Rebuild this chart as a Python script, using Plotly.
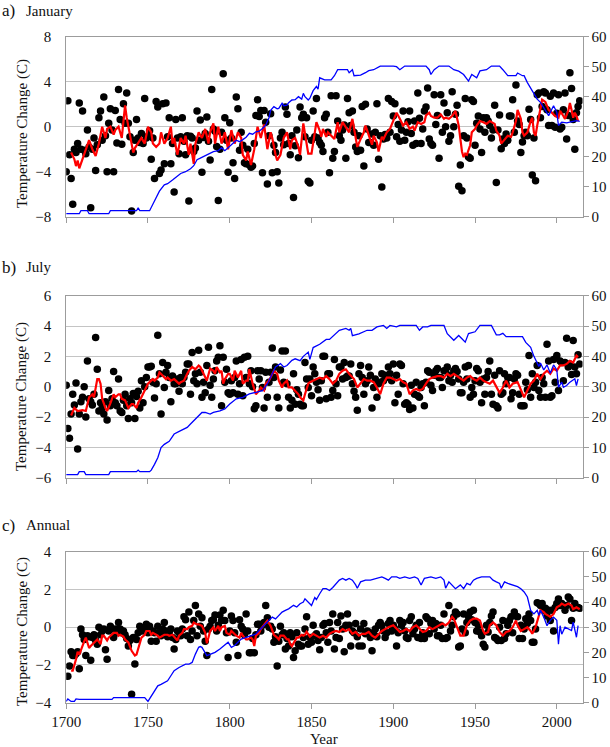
import plotly.graph_objects as go

# ---------------- data ----------------
START_YEAR = 1700

# Annual dots (one per year from 1700), by decade
jan_dots = [
    -4.0, 2.3, -2.5, -4.6, -6.9, -2.0, -2.3, -1.5, 2.1, -2.0,
    1.4, -2.1, -2.4, -0.3, -1.8, -7.2, -2.0, -1.0, -3.9, -1.6,
    0.8, 1.4, -1.2, 2.65, -0.8, -4.0, 0.3, 1.6, -0.3, -4.0,
    1.45, -1.45, 3.3, 0.65, -1.55, 2.05, 0.3, 3.0, 0.3, -0.9,
    -7.5, -2.3, -1.2, 0.65, -1.0, -1.4, -0.6, -1.5, 2.5, -1.0,
    -0.85, -0.35, -2.9, -1.0, -4.6, 2.25, 1.75, -4.15, -3.85, 2.05,
    -3.3, 2.1, -0.9, 0.8, -3.3, -1.5, -5.8, 0.65, -1.0, -2.4,
    -0.9, 0.8, -1.3, -2.5, -0.8, -6.6, -0.85, -1.0, -2.2, -1.9,
    1.4, -1.2, 0.6, -4.05, -0.95, -0.6, 0.87, -1.3, -2.95, 3.3,
    -0.2, -0.4, -1.75, -6.55, -2.0, -0.5, 4.7, 0.8, -1.2, -4.05,
    0.35, -1.0, -3.2, -4.6, 2.65, 1.6, -2.1, -0.5, -1.65, -3.2,
    -3.3, -2.0, -3.4, -3.6, -3.5, -1.5, 1.0, 2.4, 0.9, 1.45,
    -4.1, 1.45, 0.4, -5.1, -0.8, 1.15, -4.1, -1.65, -2.3, -4.0,
    -5.0, -1.0, -0.5, -1.6, 1.75, 1.1, -1.5, -2.5, -0.8, -6.3,
    -1.7, -0.3, -2.75, 1.75, 0.8, 1.1, -0.9, 0.8, -4.85, -5.0,
    -1.2, 1.4, -0.9, 2.5, -1.0, -1.4, -1.65, -2.2, 0.8, 1.1,
    -0.5, -4.1, 2.75, -2.8, -2.2, 2.75, 0.5, -0.8, -1.2, -0.3,
    0.15, -2.8, 2.5, 1.25, 0.1, 1.4, -0.5, -1.8, -2.2, -0.8,
    -2.1, 1.8, -3.5, 2.0, -0.2, -1.4, -1.4, -0.65, -1.65, -0.5,
    2.05, -2.9, -0.8, -5.35, -1.1, -0.7, -1.0, 2.5, -0.5, 2.25,
    0.95, 2.05, -0.9, 0.2, -1.3, -0.3, 1.4, -1.2, -0.5, 0.45,
    1.4, -0.6, -1.65, 0.5, -1.5, 3.0, 0.75, -1.5, -0.2, 1.4,
    1.75, 3.45, -1.1, -1.5, -1.65, 2.85, 0.2, 1.0, -2.8, 2.85,
    -0.5, 2.1, 0.0, 1.25, -1.3, -0.8, 3.1, 0.0, 1.1, 1.9,
    -5.3, -3.4, -5.7, -0.8, 2.5, -1.0, -2.7, -2.8, 2.4, 2.25,
    -1.65, 0.3, 0.95, -0.2, -2.3, 0.8, -0.5, 0.8, 0.5, 0.1,
    -1.0, -0.3, 1.9, -4.95, -0.3, 1.05, -1.95, -1.1, -1.5, -0.65,
    -1.2, 0.95, 0.95, 2.4, -0.5, 3.7, 0.5, 0.2, -2.3, -1.35,
    -0.8, -0.5, -0.8, 1.55, 0.65, -4.3, -1.0, -4.8, 2.85, 3.0,
    0.8, 1.8, 3.1, 3.0, 1.5, 0.1, 2.7, 0.1, 3.0, -0.05,
    1.2, 2.85, -0.2, -0.05, 1.5, 3.0, -1.1, 1.0, 4.8, 3.4,
    0.65, -2.0, 1.25, 1.8, 2.3,
]

jul_dots = [
    0.1, -2.75, -3.4, -1.8, -0.5, -1.2, 0.25, -4.1, -1.8, -1.0,
    -0.7, 0.0, -2.0, 1.7, -0.8, -1.0, -1.2, -0.5, 3.25, 1.15,
    -1.6, -1.05, -1.4, -1.8, -1.0, -2.2, -0.25, -1.25, -0.8, 1.0,
    -1.05, -1.25, 0.5, -1.6, -1.7, -0.9, -0.5, -1.25, -2.1, -0.8,
    -1.05, -0.45, -2.1, -0.65, -0.3, -1.4, 0.4, -1.05, 0.0, 0.6,
    1.3, 1.3, 1.35, 0.3, -0.75, 0.2, 3.4, 0.85, -1.8, 1.6,
    -0.05, 0.95, 1.4, 0.6, -1.0, 0.7, 0.2, 0.2, 0.5, -0.3,
    0.6, 0.2, 0.6, 0.95, 1.5, 1.5, -0.5, 2.25, 0.4, 0.85,
    0.2, 2.4, 0.95, -0.7, 0.3, -0.4, 1.4, 2.6, 0.1, -0.7,
    0.5, 1.05, 1.7, 1.95, 2.7, -1.25, 1.95, 0.3, 1.15, -0.4,
    -0.5, 0.4, -0.4, 0.6, 1.7, -0.5, 0.2, 1.8, -0.6, 1.95,
    0.6, 2.0, 0.2, 1.05, 0.0, -1.45, -1.25, 1.05, 0.5, 1.05,
    -0.05, -1.4, 0.95, -0.7, 0.3, 0.95, 2.55, 0.6, 1.3, -0.7,
    -1.4, 1.1, 2.35, 0.3, 2.35, 0.2, -0.7, -1.4, -0.9, 0.85,
    -1.15, -0.2, -0.5, -1.15, -1.25, -1.25, 1.6, 0.5, -0.05, 0.5,
    -0.6, 1.3, 0.85, 0.3, -0.2, -0.9, 0.4, 2.0, 2.0, -0.8,
    0.85, 0.85, -0.7, -0.25, 1.8, 0.2, -0.6, 1.3, 1.3, 0.5,
    1.6, 0.6, 0.7, 0.7, 1.5, 0.2, -0.3, -0.7, -1.55, 0.85,
    1.4, 0.6, -0.5, 0.2, 0.4, 1.3, 0.75, -1.4, -0.05, 0.5,
    -0.7, 0.2, 0.3, 0.85, 0.4, 0.75, 0.6, 1.3, 0.85, 0.4,
    1.5, -1.05, 0.75, -0.5, 1.5, 1.4, 0.2, -1.15, -1.05, -1.15,
    -1.5, 0.1, -1.4, -0.5, 0.3, -0.6, -0.7, -0.05, 0.2, -1.25,
    0.3, 1.05, 0.95, 0.1, -0.25, 0.75, 1.05, 1.2, 0.6, 0.6,
    -0.05, 1.05, 1.05, 1.3, 0.4, 0.75, 0.3, 1.05, 1.2, 1.0,
    0.5, -0.4, -0.4, 0.3, 1.3, 0.5, 1.4, -0.7, -0.05, -0.5,
    0.4, 1.2, 1.05, 0.3, -1.05, 0.5, -0.5, 0.6, 1.0, 1.7,
    -0.5, -1.15, 0.75, -1.25, -1.4, 1.05, -0.5, -0.4, 0.85, 0.2,
    0.6, 0.6, -0.8, -0.4, 0.5, 0.85, 0.75, -0.5, -1.25, -1.25,
    -1.25, 0.3, -0.2, 2.05, -0.7, 0.85, -0.05, 0.3, 1.4, -0.25,
    -0.7, 0.6, 0.2, -0.7, 2.8, 1.7, -0.7, -0.6, 1.8, 0.3,
    2.05, -0.25, 1.7, 1.6, 0.4, 1.6, 3.2, 1.3, 1.5, 0.8,
    3.05, 1.3, 0.85, 2.1, 1.5,
]

ann_dots = [
    None, -2.6, -2.05, -1.3, -1.5, -1.5, -1.4, -1.3, -2.2, -0.1,
    -0.4, -0.65, -1.5, -0.45, -0.5, -1.75, -0.55, -0.4, -0.7, -0.9,
    0.0, -0.4, -0.2, -0.1, -1.2, -1.7, -0.2, 0.05, -0.1, -0.55,
    -0.1, -0.3, 0.25, -0.1, -0.3, -0.2, -0.4, -0.6, -1.0, -0.7,
    -3.55, -0.55, -1.95, -0.65, -0.3, 0.05, -0.2, -0.1, -0.2, 0.15,
    -0.3, 0.05, -0.75, -0.2, -0.3, -0.75, 0.05, -0.3, -0.45, -0.1,
    0.25, -0.2, -0.5, -0.3, -0.1, -0.55, -1.15, -0.65, -0.2, -0.3,
    -0.45, -0.1, 0.55, 0.4, -0.45, 0.8, -0.65, -0.2, 0.35, 1.15,
    -0.45, 0.7, 0.05, 0.5, -0.2, -0.75, -1.5, -0.1, 0.05, 0.35,
    0.4, 0.65, -0.2, 0.1, 0.65, 0.35, 0.9, 0.35, -0.3, -1.6,
    -0.2, 0.6, 0.35, -0.3, -0.8, -1.5, 0.4, 0.05, -0.1, -0.4,
    0.7, -0.2, -1.35, -1.35, -0.6, -1.35, -0.4, 0.15, 0.15, -0.2,
    0.1, 0.25, 1.15, 0.5, 0.0, 0.05, -0.1, -0.8, -0.5, -2.05,
    -0.75, 0.05, -0.4, -0.3, -1.15, -0.6, -1.0, -0.3, -0.5, -1.6,
    -1.25, -0.3, -0.9, -1.0, -1.0, -0.55, -0.1, 0.55, -0.9, -0.55,
    -0.8, 0.1, -0.45, -0.35, -0.7, -1.2, -0.55, 0.1, 0.2, -0.3,
    -0.8, 0.25, -0.2, 0.7, -1.15, -0.55, 0.25, -0.6, 0.6, -0.1,
    -1.3, 0.1, 0.7, 0.1, -1.0, -0.2, -0.3, 0.2, -0.5, -1.0,
    -0.1, -1.0, 0.2, -0.35, -0.2, -0.25, -0.55, -1.25, -0.35, -0.1,
    -0.5, 0.1, 0.25, 0.1, -0.2, -0.55, -0.3, 0.2, 0.35, -0.2,
    0.1, -0.1, -1.0, -0.3, 0.35, 0.1, 0.25, -0.2, -0.55, -0.6,
    0.35, 0.55, -0.35, -0.1, 0.1, -0.55, 0.25, -0.6, -0.3, -0.6,
    0.55, 0.45, -0.35, 0.2, 0.35, -0.1, 0.2, -0.45, -0.45, 0.1,
    -0.6, 0.7, -0.6, -0.55, 1.15, -0.2, 0.1, 0.55, 0.8, 0.7,
    -1.05, -1.0, -0.1, 0.7, -0.3, 0.25, 0.55, 0.8, 0.4, 0.9,
    0.25, -0.2, 0.1, -0.25, -0.45, -0.9, -1.05, 0.1, -0.25, 0.25,
    0.6, 0.8, -0.55, -0.6, -0.7, 0.0, -0.7, 0.35, -0.6, -0.35,
    0.1, 0.35, 0.55, -0.3, 0.8, 0.6, 0.55, -0.6, 0.1, -0.6,
    -0.1, 0.45, 0.2, 0.7, 0.35, -0.8, -0.8, -0.1, 1.3, 1.25,
    1.15, 1.25, 0.9, 1.0, 0.6, 0.9, 0.35, 0.9, -0.2, 1.05,
    1.25, 1.5, 1.15, 1.25, 1.15, 0.9, 1.15, 1.6, 1.5, 0.35,
    1.0, 1.25, 1.05, 1.05, 1.0,
]

# Smoothed series (red), (year, value)
jan_red = [
    (1703, -2.3), (1705, -2.9), (1706, -3.5), (1707, -3.0), (1708, -3.7), (1710, -2.8), (1712, -2.0),
    (1714, -1.2), (1716, -2.0), (1718, -2.6), (1720, -1.5), (1722, 0.0), (1724, -1.0), (1725, -0.2),
    (1727, 0.0), (1729, -0.7), (1730, -0.3), (1732, 0.0), (1734, -1.0), (1736, 1.9), (1737, 0.8),
    (1738, 0.0), (1739, -0.5), (1741, -2.3), (1742, -1.9), (1744, -1.5), (1746, -1.0), (1748, -1.5),
    (1750, 0.0), (1752, -0.5), (1753, -1.5), (1755, -1.8), (1757, -1.5), (1758, -0.5), (1760, -1.5),
    (1762, -1.0), (1764, 0.0), (1765, -1.5), (1766, -1.0), (1768, -2.5), (1770, -1.0), (1772, -1.5),
    (1773, -0.8), (1775, -2.5), (1776, -1.5), (1778, -3.3), (1779, -1.5), (1781, -0.5), (1783, -1.0),
    (1785, -0.2), (1787, -1.5), (1788, -0.5), (1790, 0.3), (1791, -1.5), (1793, 0.0), (1795, -1.5),
    (1797, -0.5), (1799, -2.0), (1801, -0.3), (1803, -1.5), (1805, -0.5), (1807, -1.0), (1808, -2.5),
    (1810, -3.0), (1811, -2.2), (1813, -3.4), (1815, -2.0), (1817, 0.0), (1819, -1.0), (1821, 0.2),
    (1823, -2.0), (1825, -0.5), (1826, -1.0), (1828, -2.5), (1829, -3.0), (1831, -2.5), (1833, -1.0),
    (1835, -0.5), (1837, -2.0), (1838, -1.2), (1840, -1.0), (1842, -1.8), (1843, -2.5), (1845, 0.3),
    (1847, -1.5), (1848, -2.4), (1850, -2.4), (1852, -0.5), (1853, 0.4), (1855, -0.35), (1856, -0.9),
    (1857, -0.2), (1859, -0.9), (1860, -0.5), (1862, -0.8), (1864, -1.1), (1866, 0.4), (1867, -0.5),
    (1869, 0.4), (1871, 0.0), (1873, -0.5), (1875, 0.7), (1877, -0.8), (1878, -1.8), (1880, -1.1),
    (1882, -0.5), (1883, 0.1), (1885, -0.8), (1887, -1.6), (1888, -0.8), (1890, -1.4), (1891, -2.2),
    (1893, -0.9), (1894, -1.1), (1896, -0.5), (1898, -0.2), (1900, 0.5), (1902, 1.25), (1904, 0.7),
    (1906, 0.1), (1908, 0.4), (1910, -0.2), (1912, 0.0), (1913, -0.35), (1915, 0.4), (1917, 0.25),
    (1919, 0.4), (1920, 1.0), (1922, 1.25), (1923, 0.95), (1925, 0.8), (1927, 0.8), (1929, 1.1),
    (1931, 0.7), (1932, 0.8), (1934, 0.7), (1936, 0.95), (1937, 1.25), (1938, 1.4), (1940, 0.1),
    (1941, -1.1), (1942, -2.2), (1943, -2.7), (1944, -2.4), (1945, -2.5), (1947, -1.65), (1948, -0.5),
    (1950, -0.2), (1951, 0.1), (1953, 0.5), (1955, 0.4), (1957, 0.25), (1959, 0.5), (1960, 0.4),
    (1962, 0.25), (1963, -0.35), (1965, -0.8), (1966, -1.5), (1968, -1.1), (1970, -0.8), (1972, -0.9),
    (1973, -0.5), (1975, 0.5), (1976, 1.5), (1978, 0.7), (1979, -0.5), (1980, -0.8), (1982, -0.5),
    (1984, 0.5), (1985, 0.8), (1986, -0.5), (1987, -0.8), (1988, 0.1), (1989, 0.8), (1991, 2.4),
    (1993, 2.2), (1995, 1.5), (1997, 1.25), (1999, 0.95), (2001, 0.8), (2002, 1.4), (2004, 0.95),
    (2005, 0.7), (2007, 1.4), (2008, 2.1), (2009, 1.5), (2010, 0.8), (2011, 1.25), (2012, 0.95),
    (2013, 0.5),
]

jul_red = [
    (1703, -1.9), (1705, -1.4), (1707, -1.6), (1710, -1.55), (1712, -1.6), (1714, -0.7), (1716, -0.5),
    (1717, -0.7), (1719, 0.5), (1720, 0.5), (1721, 0.2), (1722, -0.8), (1724, -1.4), (1725, -1.6),
    (1727, -1.1), (1729, -0.5), (1730, -0.7), (1732, -0.5), (1733, -0.5), (1734, -0.8), (1736, -0.9),
    (1738, -1.4), (1740, -1.15), (1741, -1.15), (1743, -1.4), (1744, -1.05), (1746, -0.7), (1748, -0.25),
    (1750, 0.2), (1751, 0.3), (1753, 0.5), (1754, 0.4), (1756, 0.6), (1757, 0.95), (1759, 0.7),
    (1761, 0.5), (1762, 0.6), (1764, 0.4), (1766, 0.5), (1767, 0.4), (1769, 0.2), (1770, 0.3),
    (1772, 0.4), (1774, 0.85), (1775, 1.05), (1777, 1.3), (1779, 1.15), (1781, 1.4), (1782, 1.3),
    (1784, 0.85), (1786, 0.4), (1788, 1.2), (1790, 1.05), (1791, 0.85), (1792, 1.3), (1794, 0.95),
    (1795, 1.05), (1796, 0.2), (1797, 0.5), (1799, 0.85), (1800, 0.85), (1802, 0.4), (1803, 1.05),
    (1805, 0.6), (1807, 1.05), (1808, 0.2), (1810, 0.4), (1811, 0.4), (1812, 1.15), (1814, 0.2),
    (1816, -0.5), (1818, -0.25), (1819, -0.05), (1821, -0.25), (1822, 0.2), (1824, 0.4), (1826, 0.85),
    (1827, 1.05), (1829, 0.85), (1830, 0.4), (1832, -0.05), (1833, 0.2), (1835, 0.4), (1836, -0.05),
    (1838, -0.05), (1840, -0.25), (1842, -0.5), (1843, -0.7), (1845, -0.9), (1846, -0.5), (1848, 0.2),
    (1849, 0.3), (1851, 0.4), (1853, 0.5), (1855, 0.6), (1857, 0.5), (1859, 0.7), (1861, 0.5),
    (1863, 0.2), (1865, 0.4), (1867, 0.85), (1869, 1.05), (1871, 1.15), (1873, 0.85), (1876, 0.5),
    (1878, -0.05), (1880, 0.2), (1882, 0.5), (1884, 0.4), (1886, 0.4), (1888, 0.3), (1890, -0.05),
    (1892, -0.5), (1894, 0.2), (1896, 0.6), (1898, 0.6), (1900, 0.5), (1902, 0.4), (1904, 0.5),
    (1906, 0.3), (1908, 0.2), (1910, -0.5), (1912, -0.25), (1914, -0.15), (1916, -0.25), (1918, -0.15),
    (1920, 0.2), (1922, 0.5), (1924, 0.6), (1927, 0.7), (1929, 0.7), (1931, 0.6), (1933, 0.85),
    (1935, 0.7), (1937, 0.85), (1939, 0.7), (1941, 0.5), (1943, 0.4), (1945, 0.6), (1947, 0.7),
    (1949, 0.5), (1951, 0.4), (1953, 0.6), (1955, 0.4), (1957, 0.3), (1959, 0.2), (1961, 0.4),
    (1963, -0.05), (1965, -0.4), (1967, -0.05), (1969, 0.4), (1971, -0.05), (1973, 0.2), (1976, 0.3),
    (1978, -0.25), (1980, -0.7), (1982, -0.25), (1984, 0.2), (1986, 0.4), (1988, 0.85), (1990, 0.5),
    (1992, 0.85), (1994, 1.05), (1996, 0.85), (1998, 1.2), (2000, 1.05), (2002, 1.4), (2004, 1.4),
    (2006, 1.5), (2008, 1.7), (2010, 1.6), (2012, 2.05), (2013, 1.95),
]

ann_red = [
    (1703, -2.3), (1704, -2.3), (1706, -1.7), (1707, -1.3), (1708, -1.45), (1710, -0.9), (1711, -0.75),
    (1712, -0.55), (1714, -1.1), (1715, -1.0), (1717, -0.8), (1719, -0.65), (1721, -0.9), (1722, -0.45),
    (1723, -0.45), (1725, -0.7), (1726, -0.55), (1728, -0.4), (1729, -0.3), (1731, -0.3), (1732, -0.45),
    (1733, -0.4), (1735, -0.5), (1736, -0.65), (1738, -0.8), (1740, -1.25), (1742, -1.5), (1743, -1.45),
    (1745, -0.8), (1746, -0.55), (1748, -0.4), (1749, -0.2), (1751, -0.2), (1752, -0.4), (1753, -0.3),
    (1755, -0.4), (1756, -0.45), (1757, -0.55), (1759, -0.45), (1760, -0.4), (1762, -0.4), (1763, -0.45),
    (1765, -0.4), (1766, -0.5), (1768, -0.7), (1769, -0.45), (1771, -0.3), (1772, -0.1), (1774, -0.1),
    (1775, 0.0), (1777, 0.07), (1778, 0.25), (1780, 0.15), (1781, 0.15), (1783, 0.07), (1785, -0.3),
    (1786, -0.85), (1787, -0.55), (1788, -0.2), (1790, 0.0), (1791, -0.2), (1793, 0.07), (1794, -0.2),
    (1795, 0.0), (1797, 0.07), (1798, -0.3), (1800, -0.4), (1801, -0.2), (1803, -0.4), (1804, -0.45),
    (1806, -0.55), (1807, -0.3), (1808, -0.45), (1810, -0.65), (1811, -0.65), (1813, -0.55), (1814, -0.65),
    (1815, -1.0), (1816, -0.45), (1818, -0.3), (1819, -0.1), (1821, 0.15), (1823, 0.35), (1825, 0.07),
    (1826, -0.2), (1827, -0.4), (1829, -0.55), (1830, -0.65), (1831, -0.45), (1833, -0.45), (1834, -0.55),
    (1835, -0.65), (1836, -0.65), (1837, -0.9), (1838, -1.0), (1840, -0.65), (1841, -0.55), (1842, -0.55),
    (1844, -0.4), (1845, -0.45), (1846, -0.4), (1847, -0.25), (1849, -0.5), (1851, -0.35), (1853, -0.45),
    (1855, -0.55), (1857, -0.45), (1859, -0.55), (1861, -0.35), (1863, -0.25), (1865, -0.2), (1867, -0.25),
    (1869, -0.1), (1871, -0.2), (1873, -0.1), (1875, -0.35), (1877, -0.25), (1879, -0.45), (1881, -0.35),
    (1883, -0.35), (1885, -0.25), (1887, -0.45), (1889, -0.55), (1891, -0.35), (1893, -0.2), (1895, -0.1),
    (1897, 0.0), (1900, 0.1), (1902, -0.1), (1904, -0.25), (1906, -0.2), (1908, -0.1), (1910, -0.2),
    (1912, 0.0), (1914, 0.1), (1916, -0.1), (1918, -0.25), (1920, -0.2), (1922, 0.0), (1924, -0.1),
    (1926, 0.0), (1928, 0.1), (1930, 0.2), (1932, 0.1), (1934, 0.25), (1936, 0.55), (1937, 0.45),
    (1939, 0.0), (1941, -0.45), (1943, -0.45), (1945, 0.1), (1947, 0.35), (1949, 0.45), (1951, 0.45),
    (1953, 0.35), (1955, -0.2), (1956, -0.35), (1958, -0.25), (1959, 0.1), (1961, 0.25), (1963, 0.1),
    (1965, -0.25), (1967, -0.45), (1969, -0.25), (1971, -0.2), (1973, 0.0), (1975, 0.35), (1976, 0.1),
    (1978, -0.2), (1980, -0.1), (1982, 0.0), (1984, -0.2), (1985, -0.35), (1987, 0.0), (1988, 0.35),
    (1990, 0.9), (1992, 0.8), (1993, 0.7), (1995, 0.6), (1996, 0.55), (1998, 0.7), (1999, 0.9),
    (2000, 1.05), (2002, 1.15), (2003, 1.25), (2005, 1.15), (2007, 1.25), (2009, 1.15), (2010, 0.95),
    (2012, 1.05), (2014, 0.95),
]

# Station counts (blue, right axis), (year, count)
jan_blue = [
    (1700, 1), (1708, 1), (1709, 2), (1713, 2), (1714, 1), (1726, 1), (1727, 2), (1743, 2), (1744, 3),
    (1745, 2), (1751, 2), (1753, 4), (1755, 6), (1757, 8.5), (1760, 10.6), (1762, 11), (1765, 12.2),
    (1768, 13.5), (1770, 14.4), (1773, 15), (1776, 16), (1778, 17), (1780, 19), (1782, 19.5), (1784, 20),
    (1787, 21), (1790, 21.7), (1793, 22), (1795, 23), (1797, 22), (1800, 23.7), (1802, 24.5), (1804, 25.5),
    (1806, 25), (1808, 25.7), (1810, 26.5), (1812, 27.8), (1814, 27.5), (1816, 28.3), (1818, 28.5),
    (1820, 29.4), (1822, 30.5), (1824, 33), (1825, 35.5), (1827, 36.7), (1829, 36), (1830, 36.1),
    (1832, 37.8), (1833, 37), (1835, 37.2), (1836, 38), (1838, 38.9), (1840, 39), (1842, 40), (1844, 39.2),
    (1845, 41.1), (1846, 40), (1848, 38.9), (1849, 39.5), (1851, 42), (1853, 43.4), (1854, 42.5),
    (1855, 46.3), (1857, 46), (1858, 45.6), (1862, 45.6), (1864, 47), (1866, 49), (1872, 49), (1873, 48),
    (1875, 49), (1876, 47), (1880, 47.2), (1883, 48), (1885, 48.7), (1888, 49), (1890, 49.6), (1892, 50.2),
    (1900, 50.2), (1902, 50), (1904, 49), (1907, 50.2), (1920, 50.2), (1922, 49), (1923, 47.4), (1925, 49),
    (1928, 50.2), (1934, 50.2), (1937, 49), (1940, 48.5), (1943, 47.4), (1946, 45.2), (1948, 47.4),
    (1951, 46.3), (1953, 48.6), (1957, 49), (1960, 50.2), (1965, 50.2), (1967, 49), (1970, 47), (1975, 47),
    (1976, 47.9), (1979, 47), (1980, 47), (1982, 44.7), (1986, 40.8), (1988, 39.2), (1990, 38.1),
    (1993, 35.4), (1995, 33.7), (1998, 37), (2000, 34.8), (2001, 30.4), (2003, 31.5), (2006, 31.3),
    (2009, 31.7), (2012, 32), (2014, 31.8),
]

jul_blue = [
    (1700, 1), (1707, 1), (1708, 2), (1711, 2), (1712, 1), (1726, 1), (1727, 2), (1743, 2), (1744, 2.5),
    (1745, 2), (1751, 2), (1752, 2.5), (1754, 4.4), (1756, 6.6), (1758, 9.9), (1760, 11), (1763, 12),
    (1766, 14.4), (1770, 15.5), (1774, 16.6), (1776, 17.7), (1780, 19.9), (1783, 21.5), (1785, 21.5),
    (1788, 21), (1790, 21.5), (1794, 22), (1797, 22.7), (1800, 24.3), (1804, 26), (1808, 26.5),
    (1812, 27.6), (1816, 28.2), (1820, 28.7), (1823, 30.9), (1826, 34.3), (1828, 36.5), (1831, 37.6),
    (1833, 36.5), (1835, 37), (1838, 38.7), (1840, 39.2), (1843, 38.6), (1845, 40), (1848, 41.4),
    (1849, 39), (1851, 42.9), (1855, 44), (1859, 45.6), (1861, 45.6), (1863, 46.7), (1867, 48.6),
    (1871, 49.2), (1873, 48.6), (1874, 49.2), (1875, 46.8), (1879, 47.4), (1881, 47.9), (1884, 48.6),
    (1887, 48.6), (1890, 49.7), (1894, 50.2), (1896, 49.2), (1898, 50.2), (1902, 49.7), (1904, 50.2),
    (1914, 50.2), (1916, 48.6), (1918, 49.7), (1921, 49.7), (1923, 50.2), (1931, 50.2), (1933, 47.5),
    (1937, 45.3), (1940, 46.9), (1942, 45.8), (1944, 44.7), (1946, 47.5), (1950, 48.1), (1953, 50.2),
    (1960, 50.2), (1963, 47.1), (1965, 47.1), (1967, 47.6), (1969, 46.5), (1979, 46.5), (1981, 44.6),
    (1984, 43), (1986, 40), (1989, 36.7), (1990, 37.8), (1992, 35.5), (1994, 37.2), (1996, 34.4),
    (1998, 37.2), (2000, 35.5), (2001, 29.8), (2003, 31.5), (2004, 29.8), (2006, 30.4), (2008, 31.5),
    (2011, 32.6), (2012, 30.4), (2013, 32.6),
]

ann_blue = [
    (1700, 0.5), (1701, 1.5), (1703, 0.5), (1705, 0.5), (1706, 1.5), (1708, 1.3), (1728, 1.3), (1729, 2),
    (1745, 2), (1748, 2), (1750, 0.5), (1751, 1.5), (1752, 2.7), (1754, 4.7), (1756, 6.7), (1758, 7.3),
    (1760, 8), (1762, 8.7), (1764, 10.7), (1766, 12.7), (1769, 14), (1771, 14.7), (1773, 15.3),
    (1775, 15.3), (1777, 16), (1779, 19.3), (1781, 22), (1782, 22.3), (1783, 22), (1786, 18.7),
    (1788, 19.3), (1791, 20), (1794, 21.3), (1797, 22.7), (1799, 24), (1801, 22), (1803, 22.7), (1805, 24),
    (1807, 25.3), (1810, 26), (1813, 26.7), (1816, 27.3), (1818, 28.7), (1820, 30), (1822, 31.3),
    (1824, 32.7), (1826, 34), (1828, 33.3), (1830, 34.7), (1832, 36), (1834, 36.7), (1836, 37.3),
    (1839, 38.7), (1841, 38), (1843, 39.3), (1845, 40), (1846, 41.3), (1848, 40), (1850, 38.6),
    (1852, 41.8), (1853, 41), (1855, 43.3), (1857, 45.3), (1859, 45.3), (1861, 44.6), (1863, 45.8),
    (1865, 47.4), (1867, 48.7), (1869, 49.4), (1871, 48.7), (1873, 49.4), (1875, 48.7), (1877, 46.8),
    (1878, 45.5), (1880, 48), (1883, 48.7), (1886, 48.7), (1890, 49.4), (1893, 50), (1895, 49.4),
    (1897, 48.7), (1899, 50), (1902, 50), (1904, 49.4), (1907, 50), (1910, 49.4), (1913, 50), (1915, 49.4),
    (1917, 46.8), (1919, 49.4), (1923, 50), (1926, 49.4), (1929, 50), (1931, 48.7), (1932, 45.5),
    (1934, 48), (1936, 46.8), (1938, 45.3), (1939, 45.8), (1941, 46.8), (1943, 45.3), (1945, 47.4),
    (1947, 46.8), (1949, 48.7), (1951, 49.4), (1954, 50), (1959, 50), (1961, 48.7), (1963, 48),
    (1965, 47.4), (1966, 45.5), (1968, 48), (1970, 47.4), (1973, 46.8), (1976, 46.1), (1978, 45.3),
    (1980, 44), (1982, 42), (1984, 36.7), (1986, 35.3), (1988, 36.7), (1989, 34.7), (1990, 36.7),
    (1992, 34), (1994, 30.6), (1996, 32.7), (1998, 34), (2000, 32.7), (2001, 23.2), (2002, 30.6),
    (2003, 27.2), (2005, 30), (2007, 29.3), (2009, 28.7), (2010, 32), (2011, 28.7), (2012, 26),
    (2013, 30.6),
]

panel_titles = [("a)", "January"), ("b)", "July"), ("c)", "Annual")]
left_ranges = [(-8, 8, 4), (-6, 6, 2), (-4, 4, 2)]
right_ticks = [0, 10, 20, 30, 40, 50, 60]
x_ticks = [1700, 1750, 1800, 1850, 1900, 1950, 2000]
y_title = "Temperature Change (C)"
x_title = "Year"

# ---------------- layout geometry (pixels) ----------------
W, H = 610, 747
X0, X1 = 66.2, 582.5
panels_px = [(36.7, 216.7), (295.7, 477.7), (551.7, 702.7)]
title_px = [11, 267, 525]
ytitle_px = [134, 397, 632]

FONT = "Liberation Serif, Times New Roman, serif"
AX = "#9c9c9c"
GRID = "#c4c4c4"
TXT = "#111111"

fig = go.Figure()
series = [
    (jan_dots, jan_red, jan_blue),
    (jul_dots, jul_red, jul_blue),
    (ann_dots, ann_red, ann_blue),
]

layout = dict(
    template="none",
    width=W, height=H, margin=dict(l=0, r=0, t=0, b=0, pad=0, autoexpand=False),
    paper_bgcolor="white", plot_bgcolor="white", showlegend=False,
    font=dict(family=FONT, size=14, color=TXT),
)
annotations = []

for i, (dots, red, blue) in enumerate(series):
    n = i + 1
    xa = "x" if n == 1 else f"x{n}"
    yl = f"y{2*i+1}" if i > 0 else "y"
    yr = f"y{2*i+2}"
    yl_key = "yaxis" if i == 0 else f"yaxis{2*i+1}"
    yr_key = f"yaxis{2*i+2}"
    xa_key = "xaxis" if n == 1 else f"xaxis{n}"

    top, bot = panels_px[i]
    ydom = [1 - bot / H, 1 - top / H]
    xdom = [X0 / W, X1 / W]
    lo, hi, dt = left_ranges[i]

    layout[xa_key] = dict(
        domain=xdom, range=[1700, 2015.7], anchor=yl, tickmode="array", tickvals=x_ticks,
        showticklabels=(i == 2), ticks="outside", ticklen=5, tickwidth=1, tickcolor=AX,
        showline=True, linecolor=AX, linewidth=1, mirror=True,
        showgrid=False, zeroline=False, automargin=False,
        tickfont=dict(family=FONT, size=15, color=TXT),
    )
    layout[yl_key] = dict(
        domain=ydom, range=[lo, hi], tickmode="linear", dtick=dt, tick0=lo, anchor=xa,
        ticks="outside", ticklen=11, tickcolor="rgba(0,0,0,0)",
        showline=True, linecolor=AX, linewidth=1, mirror=True,
        showgrid=True, gridcolor=GRID, gridwidth=1.2, zeroline=False, automargin=False,
        tickfont=dict(family=FONT, size=15, color=TXT),
    )
    layout[yr_key] = dict(
        range=[0, 60], tickmode="array", tickvals=right_ticks, overlaying=yl, anchor=xa, side="right",
        ticks="outside", ticklen=5, tickwidth=1, tickcolor=AX,
        showline=True, linecolor=AX, linewidth=1,
        showgrid=False, zeroline=False, automargin=False,
        tickfont=dict(family=FONT, size=15, color=TXT),
    )

    # blue station count
    fig.add_trace(go.Scatter(
        x=[p[0] for p in blue], y=[p[1] for p in blue], mode="lines",
        line=dict(color="#0000ff", width=1.3), xaxis=xa, yaxis=yr,
        hoverinfo="skip",
    ))
    # dots
    fig.add_trace(go.Scatter(
        x=list(range(START_YEAR, START_YEAR + len(dots))), y=dots, mode="markers",
        marker=dict(color="black", size=7.5, line=dict(width=0)), xaxis=xa, yaxis=yl,
    ))
    # red smoothed line
    fig.add_trace(go.Scatter(
        x=[p[0] for p in red], y=[p[1] for p in red], mode="lines",
        line=dict(color="#ff0000", width=2.2), xaxis=xa, yaxis=yl,
    ))

    letter, name = panel_titles[i]
    annotations.append(dict(
        text=letter, x=0, y=1 - title_px[i] / H, xref="paper", yref="paper",
        xanchor="left", yanchor="middle", showarrow=False,
        font=dict(family=FONT, size=17, color=TXT),
    ))
    annotations.append(dict(
        text=name, x=24 / W, y=1 - title_px[i] / H, xref="paper", yref="paper",
        xanchor="left", yanchor="middle", showarrow=False,
        font=dict(family=FONT, size=15, color=TXT),
    ))
    annotations.append(dict(
        text=y_title, x=22 / W, y=1 - ytitle_px[i] / H, xref="paper", yref="paper",
        xanchor="center", yanchor="middle", textangle=-90, showarrow=False,
        font=dict(family=FONT, size=15, color=TXT),
    ))

annotations.append(dict(
    text=x_title, x=324 / W, y=1 - 739 / H, xref="paper", yref="paper",
    xanchor="center", yanchor="middle", showarrow=False,
    font=dict(family=FONT, size=15, color=TXT),
))
layout["annotations"] = annotations
fig.update_layout(**layout)
fig.write_html(
    "out.html",
    config={"displayModeBar": False},
    post_script="document.body.style.margin='0';document.body.style.padding='0';document.body.style.overflow='hidden';",
)
